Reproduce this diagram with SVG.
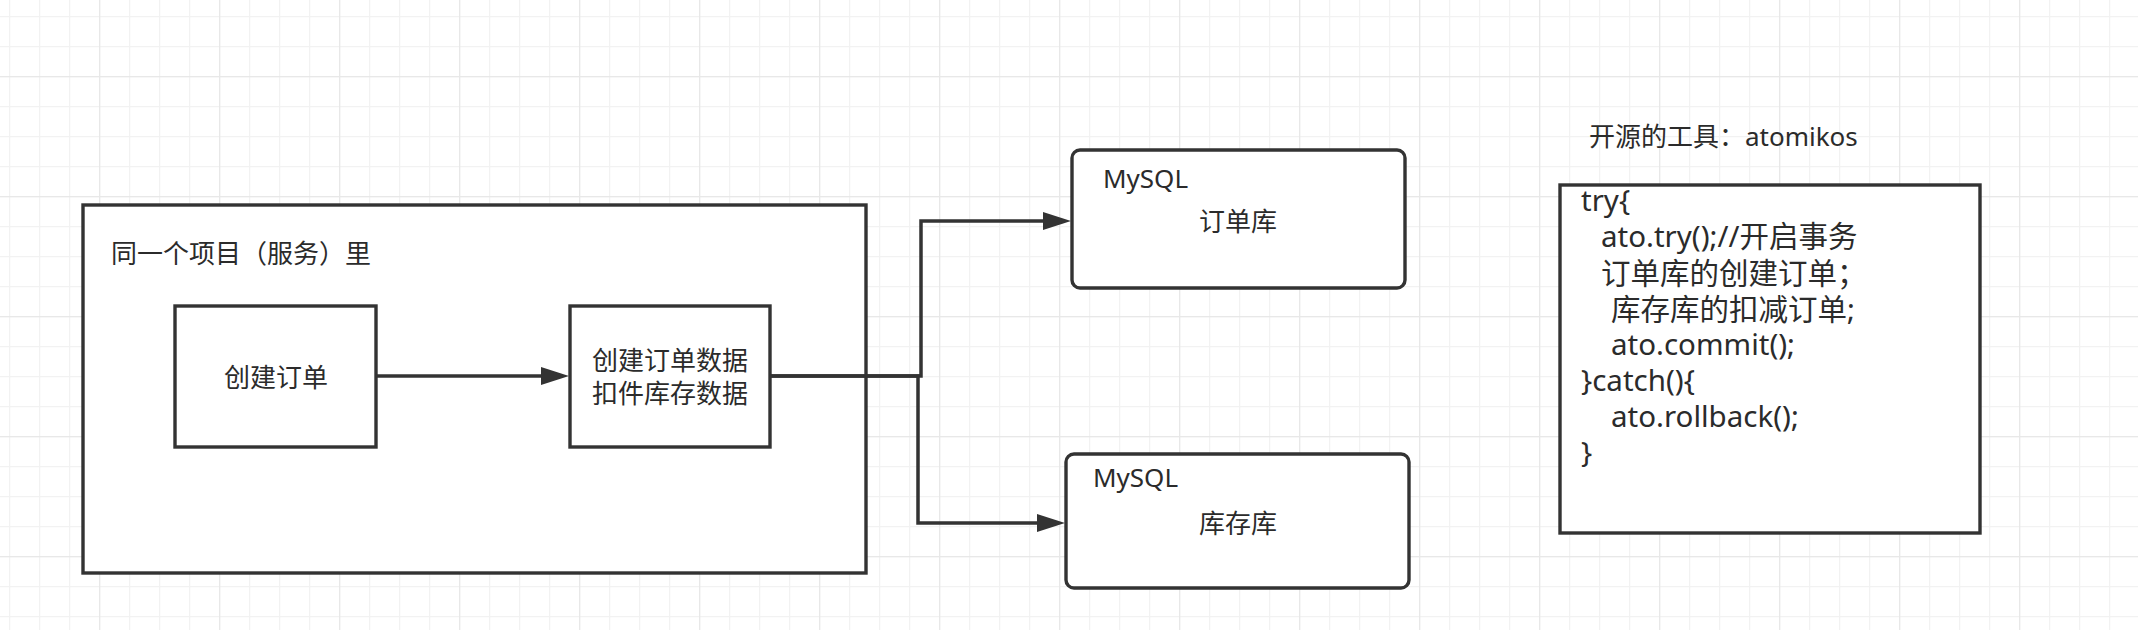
<svg xmlns="http://www.w3.org/2000/svg" width="2138" height="630" viewBox="0 0 2138 630">
<style>
.box{fill:#fff;stroke:#333;stroke-width:3.4}
.edge{fill:none;stroke:#333;stroke-width:3.5}
.t{font-family:"Noto Sans","Noto Sans CJK SC",sans-serif;font-size:26px;fill:#2b2b2b}
.c{font-family:"Noto Sans","Noto Sans CJK SC",sans-serif;font-size:29.5px;fill:#2b2b2b}
.m{text-anchor:middle}
</style>
<defs>
<pattern id="minor" patternUnits="userSpaceOnUse" x="9" y="16" width="30" height="30">
<path d="M0,0.5 H30 M0.5,0 V30" stroke="#f2f2f2" stroke-width="1.5" fill="none"/>
</pattern>
<pattern id="major" patternUnits="userSpaceOnUse" x="99" y="76" width="120" height="120">
<path d="M0,0.5 H120 M0.5,0 V120" stroke="#e8e8e8" stroke-width="1.5" fill="none"/>
</pattern>
<marker id="arr" markerUnits="userSpaceOnUse" markerWidth="28" markerHeight="18" refX="0" refY="9" orient="auto" viewBox="0 0 28 18">
<path d="M0,0 L28,9 L0,18 Z" fill="#333"/>
</marker>
</defs>
<rect width="2138" height="630" fill="#fff"/>
<rect width="2138" height="630" fill="url(#minor)"/>
<rect width="2138" height="630" fill="url(#major)"/>

<g id="service">
<rect class="box" x="83" y="205" width="783" height="368"/>
<text class="t" x="111" y="263">同一个项目（服务）里</text>
</g>
<g id="create-order">
<rect class="box" x="175" y="306" width="201" height="141"/>
<text class="t m" x="276" y="387">创建订单</text>
</g>
<g id="order-data">
<rect class="box" x="570" y="306" width="200" height="141"/>
<text class="t m" x="670" y="370">创建订单数据</text>
<text class="t m" x="670" y="403">扣件库存数据</text>
</g>
<g id="order-db">
<rect class="box" x="1072" y="150" width="333" height="138" rx="8"/>
<text class="t" x="1103" y="188">MySQL</text>
<text class="t m" x="1238" y="231">订单库</text>
</g>
<g id="stock-db">
<rect class="box" x="1066" y="454" width="343" height="134" rx="8"/>
<text class="t" x="1093" y="487">MySQL</text>
<text class="t m" x="1238" y="533">库存库</text>
</g>
<g id="tool-label">
<text class="t" x="1589" y="146">开源的工具：atomikos</text>
</g>
<g id="code">
<rect class="box" x="1560" y="185" width="420" height="348"/>
<text class="c" x="1581" y="211">try{</text>
<text class="c" x="1601" y="247">ato.try();//开启事务</text>
<text class="c" x="1601" y="284">订单库的创建订单；</text>
<text class="c" x="1611" y="320">库存库的扣减订单;</text>
<text class="c" x="1611" y="355">ato.commit();</text>
<text class="c" x="1581" y="391">}catch(){</text>
<text class="c" x="1611" y="427">ato.rollback();</text>
<text class="c" x="1581" y="463">}</text>
</g>
<g id="connectors">
<path class="edge" d="M376,376 H541" marker-end="url(#arr)"/>
<path class="edge" d="M770,376 H921 V221 H1043" marker-end="url(#arr)"/>
<path class="edge" d="M770,376 H918 V523 H1037" marker-end="url(#arr)"/>
</g>
</svg>
